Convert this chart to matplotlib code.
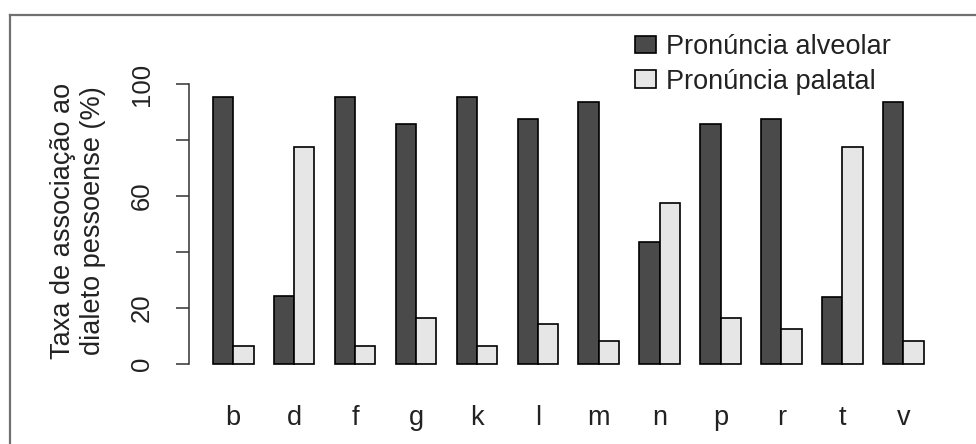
import matplotlib
matplotlib.use("Agg")
import matplotlib.pyplot as plt
from matplotlib.lines import Line2D
import numpy as np

plt.rcParams['font.family'] = ['Liberation Sans', 'DejaVu Sans']

# consoantes e taxas (%)
consoantes = ['b', 'd', 'f', 'g', 'k', 'l', 'm', 'n', 'p', 'r', 't', 'v']
alveolar = [95.5, 24.3, 95.5, 85.7, 95.5, 87.5, 93.6, 43.7, 85.7, 87.5, 24.0, 93.6]
palatal = [6.5, 77.5, 6.5, 16.4, 6.5, 14.3, 8.2, 57.6, 16.3, 12.4, 77.5, 8.2]
yticks = [0, 20, 40, 60, 80, 100]
ytick_labels = ['0', '20', '', '60', '', '100']
legenda = ['Pronúncia alveolar', 'Pronúncia palatal']

W, H = 976, 444
fig = plt.figure(figsize=(W / 100, H / 100), dpi=100)

# posicao dos eixos em pixels (estilo barplot do R)
x0, x1 = 189, 950
y_bot, y_top = 369.6, 70
ax = fig.add_axes([x0 / W, 1 - y_bot / H, (x1 - x0) / W, (y_bot - y_top) / H])

grupos = 1 + 3 * np.arange(len(consoantes))
b1 = ax.bar(grupos + 0.5, alveolar, width=1, color='#4a4a4a', edgecolor='black', linewidth=1.2)
b2 = ax.bar(grupos + 1.5, palatal, width=1, color='#e6e6e6', edgecolor='black', linewidth=1.2)

ax.set_xlim(-0.18, 37.3)
ax.set_ylim(-2, 105)

for s in ['top', 'right', 'bottom']:
    ax.spines[s].set_visible(False)
ax.spines['left'].set_bounds(0, 100)
ax.spines['left'].set_color('#333333')
ax.spines['left'].set_linewidth(1.1)

ax.set_yticks(yticks)
ax.set_yticklabels(ytick_labels, rotation=90, va='center', fontsize=18.5, color='#222222')
ax.tick_params(axis='y', length=9.4, width=1.1, color='#333333', pad=16)

ax.set_xticks(grupos + 1)
ax.set_xticklabels(consoantes, fontsize=19.5, color='#222222')
ax.tick_params(axis='x', length=0, pad=25.5)

ax.set_ylabel('Taxa de associação ao\ndialeto pessoense (%)', fontsize=19.5,
              color='#222222', va='center', linespacing=1.2)
ax.yaxis.set_label_coords((78 - x0) / (x1 - x0), (y_bot - 221) / (y_bot - y_top))

ax.legend([b1, b2], legenda, loc='upper left', bbox_to_anchor=(635 / W, 1 - 34 / H),
          bbox_transform=fig.transFigure, frameon=False, fontsize=19.5,
          handlelength=0.76, handleheight=0.61, handletextpad=0.4,
          labelspacing=0.32, borderpad=0, borderaxespad=0, labelcolor='#222222')

# moldura cinza (so topo e esquerda visiveis)
fig.add_artist(Line2D([10 / W, 1], [1 - 15 / H, 1 - 15 / H], color='#707070', linewidth=1.6))
fig.add_artist(Line2D([10 / W, 10 / W], [0, 1 - 15 / H], color='#707070', linewidth=1.6))

fig.savefig('out.png', dpi=100)
